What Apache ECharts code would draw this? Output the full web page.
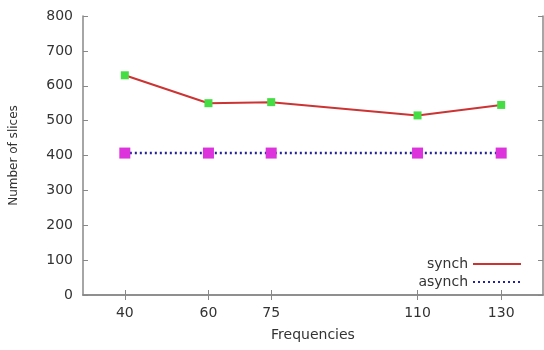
<!DOCTYPE html>
<html>
<head>
<meta charset="utf-8">
<script src="https://cdn.jsdelivr.net/npm/echarts@6/dist/echarts.min.js"></script>
<style>
html,body{margin:0;padding:0;background:#fff;}
#main{width:544px;height:350px;}
</style>
</head>
<body>
<div id="main"></div>
<script>
// frequencies on the x axis, slice counts on the y axis
var freqs = [40, 60, 75, 110, 130];
var synch = [630, 550, 553, 515, 545];
var asynch = [407, 407, 407, 407, 407];
var yTicks = [0, 100, 200, 300, 400, 500, 600, 700, 800];

function pairs(xs, ys) {
	var out = [];
	for (var i = 0; i < xs.length; i++) out.push([xs[i], ys[i]]);
	return out;
}

var txt = {color: '#333', fontSize: 14, fontFamily: 'DejaVu Sans, sans-serif'};
var frame = {show: true, lineStyle: {color: '#888', width: 1.5}};

var myChart = echarts.init(document.getElementById('main'));
var option = {
	backgroundColor: '#fff',
	animation: false,
	grid: {left: 83, right: 1, top: 16, bottom: 55},
	legend: {
		orient: 'vertical',
		right: 17,
		bottom: 56,
		align: 'right',
		itemGap: 4,
		itemWidth: 48,
		itemHeight: 14,
		itemStyle: {opacity: 0},
		textStyle: txt,
		data: ['synch', 'asynch']
	},
	xAxis: [{
		type: 'value',
		min: 30,
		max: 140,
		name: 'Frequencies',
		nameLocation: 'middle',
		nameGap: 33,
		nameTextStyle: txt,
		axisLine: frame,
		splitLine: {show: false},
		axisTick: {inside: true, length: 5, customValues: freqs, lineStyle: {color: '#888'}},
		axisLabel: Object.assign({customValues: freqs, margin: 11}, txt)
	}, {
		type: 'value',
		position: 'top',
		min: 30,
		max: 140,
		axisLine: frame,
		splitLine: {show: false},
		axisTick: {inside: true, length: 5, customValues: freqs, lineStyle: {color: '#888'}},
		axisLabel: {show: false}
	}],
	yAxis: [{
		type: 'value',
		min: 0,
		max: 800,
		interval: 100,
		name: 'Number of slices',
		nameLocation: 'middle',
		nameGap: 63,
		nameTextStyle: {color: '#333', fontSize: 12, fontFamily: 'DejaVu Sans, sans-serif'},
		axisLine: frame,
		splitLine: {show: false},
		axisTick: {inside: true, length: 5, customValues: yTicks, lineStyle: {color: '#888'}},
		axisLabel: Object.assign({margin: 10}, txt)
	}, {
		type: 'value',
		position: 'right',
		min: 0,
		max: 800,
		interval: 100,
		axisLine: frame,
		splitLine: {show: false},
		axisTick: {inside: true, length: 5, lineStyle: {color: '#888'}},
		axisLabel: {show: false}
	}],
	series: [{
		name: 'synch',
		type: 'line',
		data: pairs(freqs, synch),
		symbol: 'rect',
		symbolSize: 8,
		itemStyle: {color: '#44dd44'},
		lineStyle: {color: '#cc3333', width: 2}
	}, {
		name: 'asynch',
		type: 'line',
		data: pairs(freqs, asynch),
		symbol: 'rect',
		symbolSize: 11,
		itemStyle: {color: '#dd33dd'},
		lineStyle: {color: '#222299', width: 2.5, type: [2, 3]}
	}]
};
myChart.setOption(option);
</script>
</body>
</html>
